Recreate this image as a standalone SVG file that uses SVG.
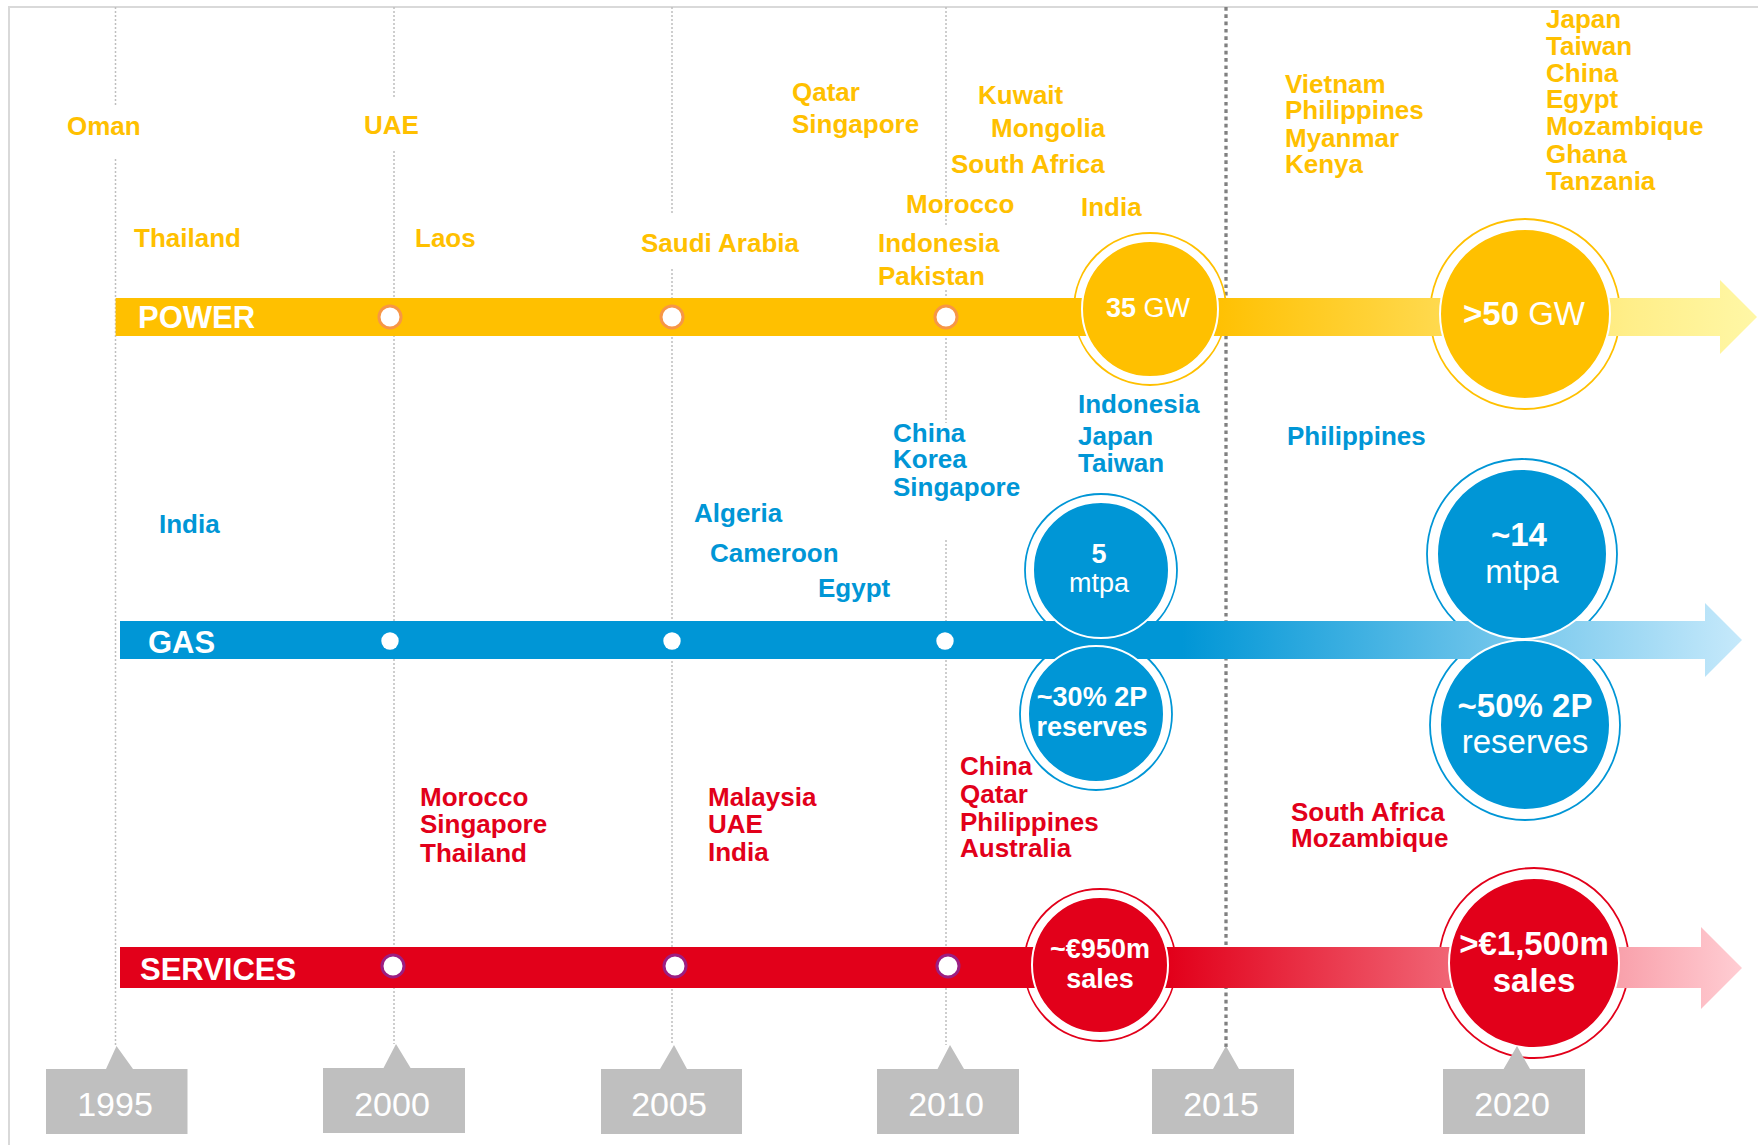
<svg xmlns="http://www.w3.org/2000/svg" width="1758" height="1145" viewBox="0 0 1758 1145">
<defs>
<linearGradient id="gPower" gradientUnits="userSpaceOnUse" x1="115" y1="0" x2="1757" y2="0">
<stop offset="0" stop-color="#FFC000"/><stop offset="0.667" stop-color="#FFC000"/><stop offset="0.8" stop-color="#FFD84A"/><stop offset="0.92" stop-color="#FFEE88"/><stop offset="1" stop-color="#FFF7A6"/>
</linearGradient>
<linearGradient id="gGas" gradientUnits="userSpaceOnUse" x1="120" y1="0" x2="1742" y2="0">
<stop offset="0" stop-color="#0096D6"/><stop offset="0.655" stop-color="#0096D6"/><stop offset="1" stop-color="#C6E9FB"/>
</linearGradient>
<linearGradient id="gSvc" gradientUnits="userSpaceOnUse" x1="120" y1="0" x2="1742" y2="0">
<stop offset="0" stop-color="#E2001A"/><stop offset="0.647" stop-color="#E2001A"/><stop offset="1" stop-color="#FFCDD3"/>
</linearGradient>
<style>
text{font-family:"Liberation Sans",Arial,sans-serif;}
.lab{font-size:26px;font-weight:bold;}
.y{fill:#FFC000;}
.b{fill:#0096D6;}
.r{fill:#E2001A;}
.grid{stroke:#BFBFBF;stroke-width:1.5;stroke-dasharray:2 2;fill:none;}
.g15{stroke:#808080;stroke-width:3.3;stroke-dasharray:3.7 3.6;fill:none;}
.bar{font-size:31px;font-weight:bold;fill:#fff;}
.ct{fill:#fff;text-anchor:middle;}
.ringY{fill:#fff;stroke:#FFC000;stroke-width:1.8;}
.ringB{fill:#fff;stroke:#0096D6;stroke-width:1.8;}
.ringR{fill:#fff;stroke:#E2001A;stroke-width:1.8;}
.inY{fill:#FFC000;stroke:#fff;stroke-width:2;}
.inB{fill:#0096D6;stroke:#fff;stroke-width:2;}
.inR{fill:#E2001A;stroke:#fff;stroke-width:2;}
.yr{fill:#BFBFBF;}
.yt{font-size:34px;fill:#fff;text-anchor:middle;}
.mP{fill:#fff;stroke:#F79646;stroke-width:3;}
.mS{fill:#fff;stroke:#9B1E82;stroke-width:3;}
</style>
</defs>
<rect width="1758" height="1145" fill="#fff"/>
<path d="M9,1145 V7 H1758" fill="none" stroke="#D9D9D9" stroke-width="2"/>

<g id="gridlines">
<path class="grid" d="M115.5,7 V107 M115.5,159 V1047"/>
<path class="grid" d="M394,7 V97 M394,151 V1044"/>
<path class="grid" d="M672,7 V215 M672,269 V1045"/>
<path class="grid" d="M946,7 V227 M946,290 V423 M946,540 V1045"/>
<path class="g15" d="M1226,7 V1047"/>
</g>

<g id="outer-rings">
<circle class="ringY" cx="1150" cy="309" r="76"/>
<circle class="ringY" cx="1525" cy="314" r="95"/>
<circle class="ringB" cx="1101" cy="570" r="76"/>
<circle class="ringB" cx="1096" cy="714" r="76"/>
<circle class="ringB" cx="1522" cy="554" r="95"/>
<circle class="ringB" cx="1525" cy="725" r="95"/>
<circle class="ringR" cx="1100" cy="965" r="76"/>
<circle class="ringR" cx="1534" cy="963" r="95"/>
</g>

<g id="connectors">
<path id="power-arrow" d="M115.6,298 H1720 V280 L1757,317 L1720,354 V336 H115.6 Z" fill="url(#gPower)"/>
<path id="gas-arrow" d="M120,621 H1705 V603 L1742,640 L1705,677 V659 H120 Z" fill="url(#gGas)"/>
<path id="services-arrow" d="M120,947 H1701 V927 L1742,968 L1701,1009 V988 H120 Z" fill="url(#gSvc)"/>
</g>

<g id="bar-labels">
<text class="bar" x="138" y="328">POWER</text>
<text class="bar" x="148" y="653">GAS</text>
<text class="bar" x="140" y="980">SERVICES</text>
</g>

<g id="markers">
<circle class="mP" cx="390" cy="317" r="11"/>
<circle class="mP" cx="672" cy="317" r="11"/>
<circle class="mP" cx="946" cy="317" r="11"/>
<circle fill="#fff" cx="390" cy="641" r="8.7"/>
<circle fill="#fff" cx="672" cy="641" r="8.7"/>
<circle fill="#fff" cx="945" cy="641" r="8.7"/>
<circle class="mS" cx="393" cy="966" r="11"/>
<circle class="mS" cx="675" cy="966" r="11"/>
<circle class="mS" cx="948" cy="966" r="11"/>
</g>

<g id="node-35gw">
<circle class="inY" cx="1150" cy="309" r="68"/>
<text class="ct" x="1148" y="317" font-size="27"><tspan font-weight="bold">35</tspan> GW</text>
</g>
<g id="node-50gw">
<circle class="inY" cx="1525" cy="314" r="85"/>
<text class="ct" x="1524" y="325" font-size="33"><tspan font-weight="bold">&gt;50</tspan> GW</text>
</g>
<g id="node-5mtpa">
<circle class="inB" cx="1101" cy="570" r="68"/>
<text class="ct" x="1099" y="563" font-size="27" font-weight="bold">5</text>
<text class="ct" x="1099" y="592" font-size="27">mtpa</text>
</g>
<g id="node-30pct">
<circle class="inB" cx="1096" cy="714" r="68"/>
<text class="ct" x="1092" y="706" font-size="27" font-weight="bold">~30% 2P</text>
<text class="ct" x="1092" y="736" font-size="27" font-weight="bold">reserves</text>
</g>
<g id="node-14mtpa">
<circle class="inB" cx="1522" cy="554" r="85"/>
<text class="ct" x="1519" y="546" font-size="33" font-weight="bold">~14</text>
<text class="ct" x="1522" y="583" font-size="33">mtpa</text>
</g>
<g id="node-50pct">
<circle class="inB" cx="1525" cy="725" r="85"/>
<text class="ct" x="1525" y="717" font-size="33" font-weight="bold">~50% 2P</text>
<text class="ct" x="1525" y="753" font-size="33">reserves</text>
</g>
<g id="node-950m">
<circle class="inR" cx="1100" cy="965" r="68"/>
<text class="ct" x="1100" y="958" font-size="27" font-weight="bold">~€950m</text>
<text class="ct" x="1100" y="988" font-size="27" font-weight="bold">sales</text>
</g>
<g id="node-1500m">
<circle class="inR" cx="1534" cy="963" r="85"/>
<text class="ct" x="1534" y="955" font-size="33" font-weight="bold">&gt;€1,500m</text>
<text class="ct" x="1534" y="992" font-size="33" font-weight="bold">sales</text>
</g>

<g id="power-labels" class="lab y">
<text x="67" y="135">Oman</text>
<text x="364" y="134">UAE</text>
<text x="134" y="247">Thailand</text>
<text x="415" y="247">Laos</text>
<text x="641" y="252">Saudi Arabia</text>
<text x="792" y="101">Qatar</text>
<text x="792" y="133">Singapore</text>
<text x="978" y="104">Kuwait</text>
<text x="991" y="137">Mongolia</text>
<text x="951" y="173">South Africa</text>
<text x="906" y="213">Morocco</text>
<text x="1081" y="216">India</text>
<text x="878" y="252">Indonesia</text>
<text x="878" y="285">Pakistan</text>
<text x="1285" y="93">Vietnam</text>
<text x="1285" y="119">Philippines</text>
<text x="1285" y="147">Myanmar</text>
<text x="1285" y="173">Kenya</text>
<text x="1546" y="28">Japan</text>
<text x="1546" y="55">Taiwan</text>
<text x="1546" y="82">China</text>
<text x="1546" y="108">Egypt</text>
<text x="1546" y="135">Mozambique</text>
<text x="1546" y="163">Ghana</text>
<text x="1546" y="190">Tanzania</text>
</g>

<g id="gas-labels" class="lab b">
<text x="159" y="533">India</text>
<text x="694" y="522">Algeria</text>
<text x="710" y="562">Cameroon</text>
<text x="818" y="597">Egypt</text>
<text x="893" y="442">China</text>
<text x="893" y="468">Korea</text>
<text x="893" y="496">Singapore</text>
<text x="1078" y="413">Indonesia</text>
<text x="1078" y="445">Japan</text>
<text x="1078" y="472">Taiwan</text>
<text x="1287" y="445">Philippines</text>
</g>

<g id="services-labels" class="lab r">
<text x="420" y="806">Morocco</text>
<text x="420" y="833">Singapore</text>
<text x="420" y="862">Thailand</text>
<text x="708" y="806">Malaysia</text>
<text x="708" y="833">UAE</text>
<text x="708" y="861">India</text>
<text x="960" y="775">China</text>
<text x="960" y="803">Qatar</text>
<text x="960" y="831">Philippines</text>
<text x="960" y="857">Australia</text>
<text x="1291" y="821">South Africa</text>
<text x="1291" y="847">Mozambique</text>
</g>

<g id="year-1995"><path class="yr" d="M116.5,1046 L133,1069 H187.5 V1134 H46 V1069 H106 Z"/><text class="yt" x="115" y="1116">1995</text></g>
<g id="year-2000"><path class="yr" d="M396,1044 L410.6,1068 H465 V1133 H323 V1068 H383.5 Z"/><text class="yt" x="392" y="1116">2000</text></g>
<g id="year-2005"><path class="yr" d="M674,1045 L687,1069 H742 V1134 H601 V1069 H660 Z"/><text class="yt" x="669" y="1116">2005</text></g>
<g id="year-2010"><path class="yr" d="M950,1045 L964,1069 H1019 V1134 H877 V1069 H937.5 Z"/><text class="yt" x="946" y="1116">2010</text></g>
<g id="year-2015"><path class="yr" d="M1226,1046 L1239,1069 H1294 V1134 H1152 V1069 H1213 Z"/><text class="yt" x="1221" y="1116">2015</text></g>
<g id="year-2020"><path class="yr" d="M1517,1046 L1530,1069 H1585 V1134 H1443 V1069 H1503.6 Z"/><text class="yt" x="1512" y="1116">2020</text></g>
</svg>
